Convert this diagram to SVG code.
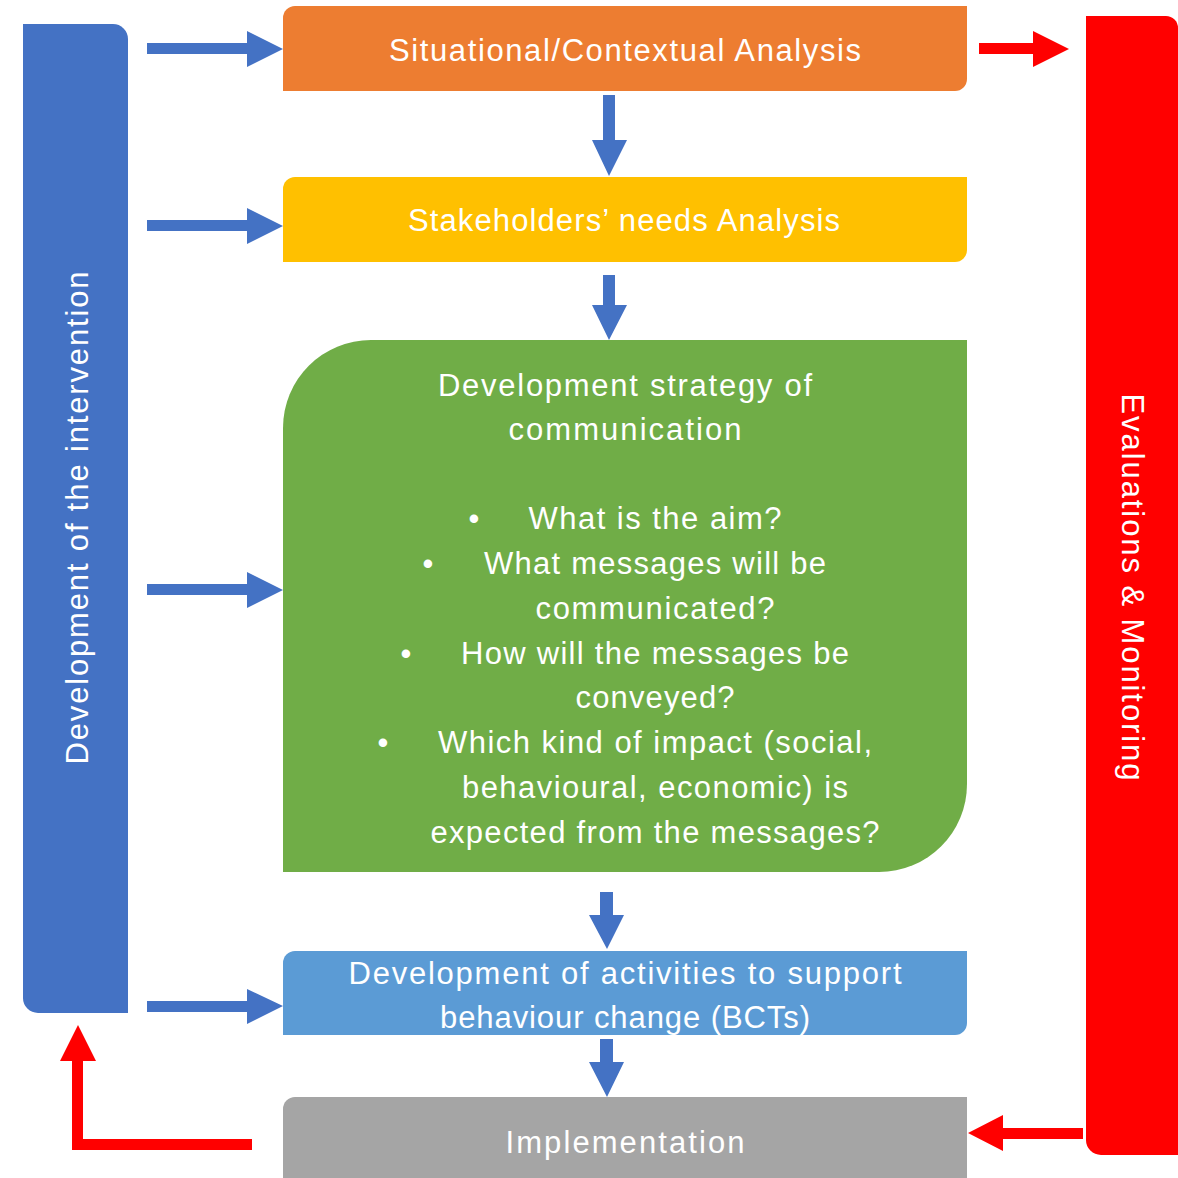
<svg xmlns="http://www.w3.org/2000/svg" width="1178" height="1178" viewBox="0 0 1178 1178">
<style>
.t{font-family:"Liberation Sans",Arial,sans-serif;font-size:31px;fill:#fff;text-anchor:middle}
.ba{fill:#4472C4}
.ra{fill:#FF0000}
</style>
<rect width="1178" height="1178" fill="#fff"/>
<g id="left-bar">
<path d="M23,24 H113 A15,15 0 0 1 128,39 V1013 H38 A15,15 0 0 1 23,998 Z" fill="#4472C4"/>
<text class="t" transform="translate(88,518) rotate(-90)" textLength="493">Development of the intervention</text>
</g>
<g id="right-bar">
<path d="M1086,16 H1166 A12,12 0 0 1 1178,28 V1155 H1101 A15,15 0 0 1 1086,1140 Z" fill="#FF0000"/>
<text class="t" transform="translate(1122,587) rotate(90)" textLength="387">Evaluations &amp; Monitoring</text>
</g>
<g id="situational">
<path d="M295,6 H967 V79 A12,12 0 0 1 955,91 H283 V18 A12,12 0 0 1 295,6 Z" fill="#ED7D31"/>
<text class="t" x="625" y="61" textLength="472">Situational/Contextual Analysis</text>
</g>
<g id="stakeholders">
<path d="M295,177 H967 V250 A12,12 0 0 1 955,262 H283 V189 A12,12 0 0 1 295,177 Z" fill="#FFC000"/>
<text class="t" x="624" y="231" textLength="432">Stakeholders’ needs Analysis</text>
</g>
<g id="strategy">
<path d="M371,340 H967 V784 A88,88 0 0 1 879,872 H283 V428 A88,88 0 0 1 371,340 Z" fill="#70AD47"/>
<text class="t" x="625" y="396" textLength="374">Development strategy of</text>
<text class="t" x="625" y="440" textLength="233">communication</text>
<text class="t" x="474" y="529">•</text>
<text class="t" x="655" y="529" textLength="253">What is the aim?</text>
<text class="t" x="428" y="574">•</text>
<text class="t" x="655" y="574" textLength="342">What messages will be</text>
<text class="t" x="655" y="619" textLength="239">communicated?</text>
<text class="t" x="406" y="664">•</text>
<text class="t" x="655" y="664" textLength="388">How will the messages be</text>
<text class="t" x="655" y="708" textLength="159">conveyed?</text>
<text class="t" x="383" y="753">•</text>
<text class="t" x="655" y="753" textLength="434">Which kind of impact (social,</text>
<text class="t" x="655" y="798" textLength="386">behavioural, economic) is</text>
<text class="t" x="655" y="843" textLength="449">expected from the messages?</text>
</g>
<g id="activities">
<path d="M295,951 H967 V1023 A12,12 0 0 1 955,1035 H283 V963 A12,12 0 0 1 295,951 Z" fill="#5B9BD5"/>
<text class="t" x="625" y="984" textLength="553">Development of activities to support</text>
<text class="t" x="625" y="1028" textLength="370">behaviour change (BCTs)</text>
</g>
<g id="implementation">
<path d="M295,1097 H967 V1190 H283 V1109 A12,12 0 0 1 295,1097 Z" fill="#A5A5A5"/>
<text class="t" x="625" y="1153" textLength="239">Implementation</text>
</g>
<g id="connectors">
<polygon class="ba" points="147,43 247,43 247,31 283,49 247,67 247,54 147,54"/>
<polygon class="ba" points="147,220 247,220 247,208 283,226 247,244 247,231 147,231"/>
<polygon class="ba" points="147,584 247,584 247,572 283,590 247,608 247,595 147,595"/>
<polygon class="ba" points="147,1001 247,1001 247,989 283,1006 247,1024 247,1012 147,1012"/>
<polygon class="ba" points="603,95 615,95 615,140 627,140 609,176 592,140 603,140"/>
<polygon class="ba" points="603,275 615,275 615,305 627,305 609,340 592,305 603,305"/>
<polygon class="ba" points="600,892 613,892 613,915 624,915 607,949 589,915 600,915"/>
<polygon class="ba" points="600,1039 613,1039 613,1062 624,1062 607,1097 589,1062 600,1062"/>
<polygon class="ra" points="979,43 1033,43 1033,31 1069,49 1033,67 1033,54 979,54"/>
<polygon class="ra" points="1083,1128 1003,1128 1003,1115 968,1133 1003,1151 1003,1139 1083,1139"/>
<polygon class="ra" points="252,1139 83,1139 83,1061 96,1061 78,1025 60,1061 72,1061 72,1150 252,1150"/>
</g>
</svg>
